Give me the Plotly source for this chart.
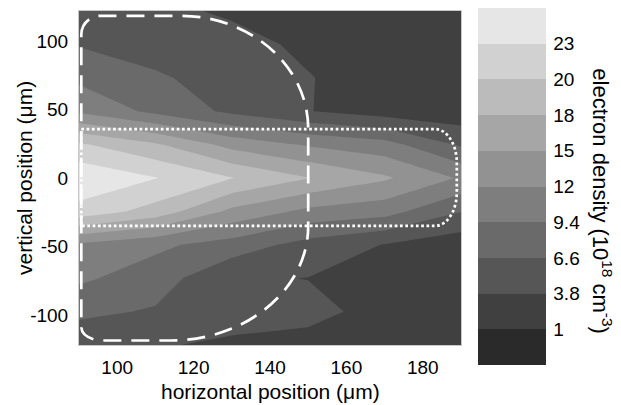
import plotly.graph_objects as go

# ---------------- data ----------------
x_pos = [90, 110, 130, 150, 170, 190]                     # horizontal position (um)
y_pos = [-122, -97.6, -73.2, -48.8, -24.4, 0, 24.4, 48.8, 73.2, 97.6, 122]  # vertical position (um)
# electron density (1e18 cm^-3); one row per y_pos, one column per x_pos
row_m122 = [4.4, 4.0, 3.4, 3.0, 2.6, 2.4]
row_m98 = [7.3, 6.3, 4.8, 4.5, 3.0, 2.5]
row_m73 = [9.9, 8.0, 4.1, 3.75, 2.5, 2.3]
row_m49 = [11.7, 10.0, 8.2, 5.5, 3.7, 2.0]
row_m24 = [22.4, 19.5, 14.3, 11.5, 10.5, 6.7]
row_0 = [25.6, 23.5, 20.7, 17.9, 15.4, 11.9]
row_p24 = [21.0, 18.2, 14.0, 11.9, 10.5, 6.2]
row_p49 = [11.7, 8.7, 6.0, 3.9, 2.5, 2.0]
row_p73 = [8.8, 7.0, 5.3, 3.9, 2.8, 2.2]
row_p98 = [6.4, 5.3, 4.5, 3.4, 2.6, 2.3]
row_p122 = [5.0, 4.3, 3.5, 3.0, 2.5, 2.4]
density = [row_m122, row_m98, row_m73, row_m49, row_m24, row_0,
           row_p24, row_p49, row_p73, row_p98, row_p122]

level_start, level_end, level_step = 1.0, 23.4, 2.8
cbar_min, cbar_max = -1.8, 26.2
cbar_tickvals = [1, 3.8, 6.6, 9.4, 12.2, 15, 17.8, 20.6, 23.4]
cbar_ticktext = ["1", "3.8", "6.6", "9.4", "12", "15", "18", "20", "23"]
band_grays = [42, 64, 86, 106, 126, 146, 166, 187, 209, 230]

x_tickvals = [100, 120, 140, 160, 180]
x_ticktext = ["100", "120", "140", "160", "180"]
y_tickvals = [-100, -50, 0, 50, 100]
y_ticktext = ["-100", "-50", "0", "50", "100"]

# outline regions (data units)
dash_left, dash_right, dash_top, dash_bottom = 90.6, 150.0, 118.5, -118.7
dash_waist_top, dash_waist_bottom = 36.0, -35.0
dash_top_cx, dash_bot_cx = 116.5, 114.0
dash_tl_r = (5.0, 14.0)
dash_bl_r = (5.5, 10.0)
dot_left, dot_right, dot_top, dot_bottom = 90.6, 188.9, 35.7, -35.0
dot_r = (5.7, 24.5)

# ---------------- figure ----------------
n = len(band_grays)
colorscale = []
for i, g in enumerate(band_grays):
    c = f"rgb({g},{g},{g})"
    colorscale.append([i / n, c])
    colorscale.append([(i + 1) / n, c])

FONT = "Liberation Sans, Arial, Helvetica, sans-serif"

fig = go.Figure()
fig.add_trace(go.Contour(
    x=x_pos, y=y_pos, z=density,
    colorscale=colorscale, zmin=cbar_min, zmax=cbar_max, zauto=False,
    autocontour=False,
    contours=dict(start=level_start, end=level_end, size=level_step,
                  coloring="fill", showlines=False),
    line=dict(width=0, smoothing=0),
    colorbar=dict(
        x=(478 - 79) / 382, xanchor="left", xpad=0,
        y=(345 - 5) / 337, yanchor="top", ypad=0,
        thickness=68, len=357, lenmode="pixels",
        outlinewidth=0,
        tickvals=cbar_tickvals, ticktext=cbar_ticktext,
        ticks="outside", ticklen=4, tickcolor="rgba(0,0,0,0)",
        tickfont=dict(family=FONT, size=19, color="black"),
    ),
    hoverinfo="skip",
))

K = 0.5523


def quarter(cx, cy, a, b, start, end):
    # cubic bezier for quarter ellipse between two axis points
    (sx, sy), (ex, ey) = start, end
    if sy != cy:  # starting at top/bottom, ending at side
        c1 = (cx + (ex - cx) * K, sy)
        c2 = (ex, cy + (sy - cy) * K)
    else:  # starting at side, ending at top/bottom
        c1 = (sx, cy + (ey - cy) * K)
        c2 = (cx + (sx - cx) * K, ey)
    return f"C {c1[0]},{c1[1]} {c2[0]},{c2[1]} {ex},{ey} "


# dashed region
a_t = dash_right - dash_top_cx
b_t = dash_top - dash_waist_top
a_b = dash_right - dash_bot_cx
b_b = dash_waist_bottom - dash_bottom
p = f"M {dash_left},{dash_top - dash_tl_r[1]} "
p += quarter(dash_left + dash_tl_r[0], dash_top - dash_tl_r[1], dash_tl_r[0], dash_tl_r[1],
             (dash_left, dash_top - dash_tl_r[1]), (dash_left + dash_tl_r[0], dash_top))
p += f"L {dash_top_cx},{dash_top} "
p += quarter(dash_top_cx, dash_waist_top, a_t, b_t, (dash_top_cx, dash_top), (dash_right, dash_waist_top))
p += f"L {dash_right},{dash_waist_bottom} "
p += quarter(dash_bot_cx, dash_waist_bottom, a_b, b_b, (dash_right, dash_waist_bottom), (dash_bot_cx, dash_bottom))
p += f"L {dash_left + dash_bl_r[0]},{dash_bottom} "
p += quarter(dash_left + dash_bl_r[0], dash_bottom + dash_bl_r[1], dash_bl_r[0], dash_bl_r[1],
             (dash_left + dash_bl_r[0], dash_bottom), (dash_left, dash_bottom + dash_bl_r[1]))
p += "Z"
fig.add_shape(type="path", path=p, xref="x", yref="y",
              line=dict(color="white", width=2.7, dash="18px,10px"))

# dotted region
rx, ry = dot_r
q = f"M {dot_left},{dot_top} L {dot_right - rx},{dot_top} "
q += quarter(dot_right - rx, dot_top - ry, rx, ry, (dot_right - rx, dot_top), (dot_right, dot_top - ry))
q += f"L {dot_right},{dot_bottom + ry} "
q += quarter(dot_right - rx, dot_bottom + ry, rx, ry, (dot_right, dot_bottom + ry), (dot_right - rx, dot_bottom))
q += f"L {dot_left},{dot_bottom} Z"
fig.add_shape(type="path", path=q, xref="x", yref="y",
              line=dict(color="white", width=2.7, dash="2.7px,2.6px"))

axis_common = dict(showgrid=False, zeroline=False, showline=True, mirror=True,
                   linecolor="#c8c8c8", linewidth=1,
                   ticks="outside", tickcolor="rgba(0,0,0,0)",
                   tickfont=dict(family=FONT, size=19, color="black"))
fig.update_xaxes(range=[90, 190], tickvals=x_tickvals, ticktext=x_ticktext,
                 ticklen=5, **axis_common)
fig.update_yaxes(range=[-122, 122], tickvals=y_tickvals, ticktext=y_ticktext,
                 ticklen=6, **axis_common)

fig.add_annotation(text="horizontal position (μm)", xref="paper", yref="paper",
                   x=0.5, y=-(392 - 345) / 337, xanchor="center", yanchor="middle",
                   showarrow=False, font=dict(family=FONT, size=21, color="black"))
fig.add_annotation(text="vertical position (μm)", xref="paper", yref="paper",
                   x=-(79 - 24) / 382, y=0.5, xanchor="center", yanchor="middle",
                   textangle=-90, showarrow=False,
                   font=dict(family=FONT, size=21, color="black"))
fig.add_annotation(text="electron density (10<sup>18</sup> cm<sup>-3</sup>)",
                   xref="paper", yref="paper",
                   x=(602 - 79) / 382, y=(345 - 200) / 337, xanchor="center", yanchor="middle",
                   textangle=90, showarrow=False,
                   font=dict(family=FONT, size=22, color="black"))

fig.update_layout(width=621, height=405, margin=dict(l=79, r=160, t=8, b=60),
                  paper_bgcolor="white", plot_bgcolor="white", showlegend=False)

fig.write_html("out.html")
